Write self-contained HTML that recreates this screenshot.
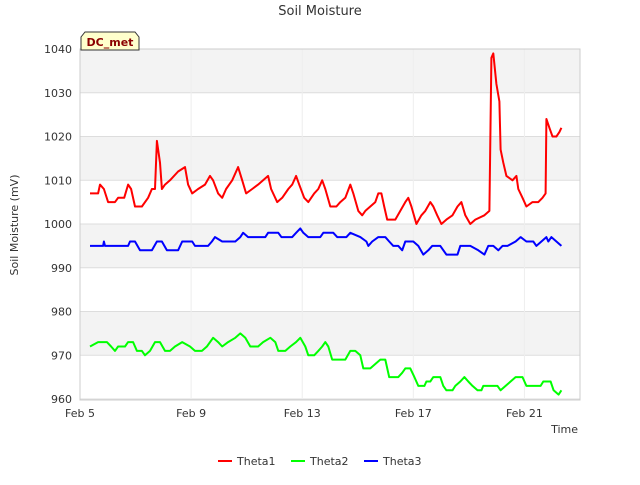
<!DOCTYPE html>
<html><head><meta charset="utf-8"><style>
body{margin:0;background:#fff;font-family:"Liberation Sans","DejaVu Sans",sans-serif;}
svg text{font-family:"DejaVu Sans","Liberation Sans",sans-serif;}
</style></head><body>
<svg id="chart" width="640" height="480" xmlns="http://www.w3.org/2000/svg">
<rect width="640" height="480" fill="#fff"/>
<text x="320" y="15" text-anchor="middle" font-size="13" fill="#333">Soil Moisture</text>
<g id="bands"></g><g id="grid"></g>
<rect x="80" y="49" width="500" height="351" fill="none" stroke="#ccc"/>
<g id="axes"></g><g id="series"></g>
<text transform="translate(18,225) rotate(-90)" text-anchor="middle" font-size="11" fill="#333">Soil Moisture (mV)</text>
<text x="578" y="433" text-anchor="end" font-size="11" fill="#333">Time</text>
<g>
<path d="M81,50 L81,37 L85,32 L135,32 L139,37 L139,50 Z" fill="#ffffcc" stroke="#333"/>
<text x="110" y="46" text-anchor="middle" font-size="11" font-weight="bold" fill="#8b0000">DC_met</text>
</g>
<g id="legend"></g>
</svg>
<script>
const yTicks=[960,970,980,990,1000,1010,1020,1030,1040];
const xTickDays=[5,9,13,17,21];
const xTickLabels=["Feb 5","Feb 9","Feb 13","Feb 17","Feb 21"];
const seriesNames=["Theta1","Theta2","Theta3"];
const seriesColors=["#ff0000","#00ff00","#0000ff"];
const t1Days=[5.36,5.65,5.72,5.86,6.01,6.26,6.37,6.59,6.73,6.84,6.98,7.23,7.45,7.59,7.70,7.77,7.88,7.95,8.06,8.24,8.53,8.78,8.89,9.04,9.25,9.50,9.68,9.79,9.97,10.12,10.26,10.48,10.69,10.84,10.98,11.20,11.41,11.59,11.77,11.88,12.10,12.28,12.50,12.64,12.78,12.89,13.07,13.22,13.43,13.58,13.72,13.83,14.01,14.23,14.37,14.55,14.73,14.84,15.02,15.16,15.27,15.45,15.63,15.74,15.85,15.95,16.06,16.35,16.53,16.71,16.82,16.93,17.11,17.29,17.43,17.61,17.72,17.86,18.01,18.19,18.41,18.59,18.73,18.87,19.05,19.23,19.56,19.74,19.81,19.88,19.99,20.10,20.14,20.24,20.35,20.57,20.71,20.78,20.93,21.07,21.29,21.50,21.65,21.76,21.79,21.90,22.01,22.15,22.26,22.33];
const t1Vals=[1007,1007,1009,1008,1005,1005,1006,1006,1009,1008,1004,1004,1006,1008,1008,1019,1014,1008,1009,1010,1012,1013,1009,1007,1008,1009,1011,1010,1007,1006,1008,1010,1013,1010,1007,1008,1009,1010,1011,1008,1005,1006,1008,1009,1011,1009,1006,1005,1007,1008,1010,1008,1004,1004,1005,1006,1009,1007,1003,1002,1003,1004,1005,1007,1007,1004,1001,1001,1003,1005,1006,1004,1000,1002,1003,1005,1004,1002,1000,1001,1002,1004,1005,1002,1000,1001,1002,1003,1038,1039,1032,1028,1017,1014,1011,1010,1011,1008,1006,1004,1005,1005,1006,1007,1024,1022,1020,1020,1021,1022];
const t2Days=[5.36,5.65,5.97,6.12,6.26,6.37,6.62,6.73,6.91,7.05,7.23,7.34,7.52,7.70,7.88,8.06,8.24,8.42,8.68,8.96,9.14,9.39,9.57,9.79,9.97,10.12,10.33,10.59,10.77,10.95,11.13,11.41,11.59,11.85,12.03,12.14,12.39,12.57,12.78,12.93,13.11,13.22,13.43,13.58,13.72,13.83,13.94,14.08,14.55,14.73,14.91,15.09,15.20,15.45,15.63,15.81,15.99,16.13,16.46,16.60,16.71,16.89,17.04,17.18,17.40,17.47,17.61,17.72,17.97,18.08,18.19,18.41,18.51,18.69,18.84,18.98,19.13,19.31,19.45,19.52,20.03,20.14,20.32,20.50,20.68,20.93,21.07,21.58,21.68,21.94,22.05,22.23,22.33];
const t2Vals=[972,973,973,972,971,972,972,973,973,971,971,970,971,973,973,971,971,972,973,972,971,971,972,974,973,972,973,974,975,974,972,972,973,974,973,971,971,972,973,974,972,970,970,971,972,973,972,969,969,971,971,970,967,967,968,969,969,965,965,966,967,967,965,963,963,964,964,965,965,963,962,962,963,964,965,964,963,962,962,963,963,962,963,964,965,965,963,963,964,964,962,961,962];
const t3Days=[5.36,5.83,5.86,5.90,6.73,6.80,6.98,7.16,7.59,7.77,7.95,8.13,8.53,8.68,9.04,9.14,9.61,9.75,9.86,10.12,10.59,10.77,10.87,11.05,11.67,11.77,12.14,12.25,12.64,12.78,12.93,13.04,13.22,13.65,13.76,14.12,14.26,14.59,14.73,15.09,15.31,15.38,15.52,15.74,15.99,16.13,16.28,16.46,16.60,16.71,17.00,17.18,17.36,17.54,17.68,17.97,18.19,18.59,18.69,19.05,19.34,19.56,19.70,19.88,20.06,20.21,20.39,20.68,20.86,21.07,21.32,21.43,21.61,21.79,21.86,21.97,22.15,22.33];
const t3Vals=[995,995,996,995,995,996,996,994,994,996,996,994,994,996,996,995,995,996,997,996,996,997,998,997,997,998,998,997,997,998,999,998,997,997,998,998,997,997,998,997,996,995,996,997,997,996,995,995,994,996,996,995,993,994,995,995,993,993,995,995,994,993,995,995,994,995,995,996,997,996,996,995,996,997,996,997,996,995];

const NS="http://www.w3.org/2000/svg";
const X0=80,X1=580,Y0=399,Y1=49,D0=5,D1=23,V0=960,V1=1040;
function xs(d){return X0+(d-D0)/(D1-D0)*(X1-X0);}
function ys(v){return Y0-(v-V0)/(V1-V0)*(Y0-Y1);}
function mk(tag,attrs,parent){const e=document.createElementNS(NS,tag);for(const k in attrs)e.setAttribute(k,attrs[k]);parent.appendChild(e);return e;}
const bands=document.getElementById('bands'),grid=document.getElementById('grid'),axes=document.getElementById('axes'),series=document.getElementById('series'),legend=document.getElementById('legend');
for(let i=0;i<yTicks.length-1;i++){
  if(i%2===1){const r=mk('rect',{x:X0,y:ys(yTicks[i+1]),width:X1-X0,height:ys(yTicks[i])-ys(yTicks[i+1]),fill:'#f3f3f3'},bands);
  
  }
}
yTicks.forEach(v=>{
  const l=mk('line',{x1:X0,x2:X1,y1:ys(v),y2:ys(v),stroke:'#dddddd'},grid);
  
  
  const t=mk('text',{x:X0-8,y:ys(v)+4,'text-anchor':'end','font-size':'11',fill:'#333'},axes);
  t.textContent=v;
  
  
});
xTickDays.forEach((d,i)=>{
  const l=mk('line',{x1:xs(d),x2:xs(d),y1:Y1,y2:Y0,stroke:'#eeeeee'},grid);
  
  
  const t=mk('text',{x:xs(d),y:417,'text-anchor':'middle','font-size':'11',fill:'#333'},axes);
  t.textContent=xTickLabels[i];
  
  
});
[[t1Days,t1Vals],[t2Days,t2Vals],[t3Days,t3Vals]].forEach((s,k)=>{
  const pts=s[0].map((d,i)=>xs(d).toFixed(1)+','+ys(s[1][i]).toFixed(1)).join(' ');
  const p=mk('polyline',{points:pts,fill:'none',stroke:seriesColors[k],'stroke-width':'2','stroke-linejoin':'round'},series);
  
  
  const lx=218+k*73;
  const g=mk('g',{},legend);
  
  
  mk('line',{x1:lx,x2:lx+14,y1:461,y2:461,stroke:seriesColors[k],'stroke-width':'2'},g);
  const t=mk('text',{x:lx+19,y:465,'font-size':'11',fill:'#333'},g);
  t.textContent=seriesNames[k];
});
</script>
</body></html>
